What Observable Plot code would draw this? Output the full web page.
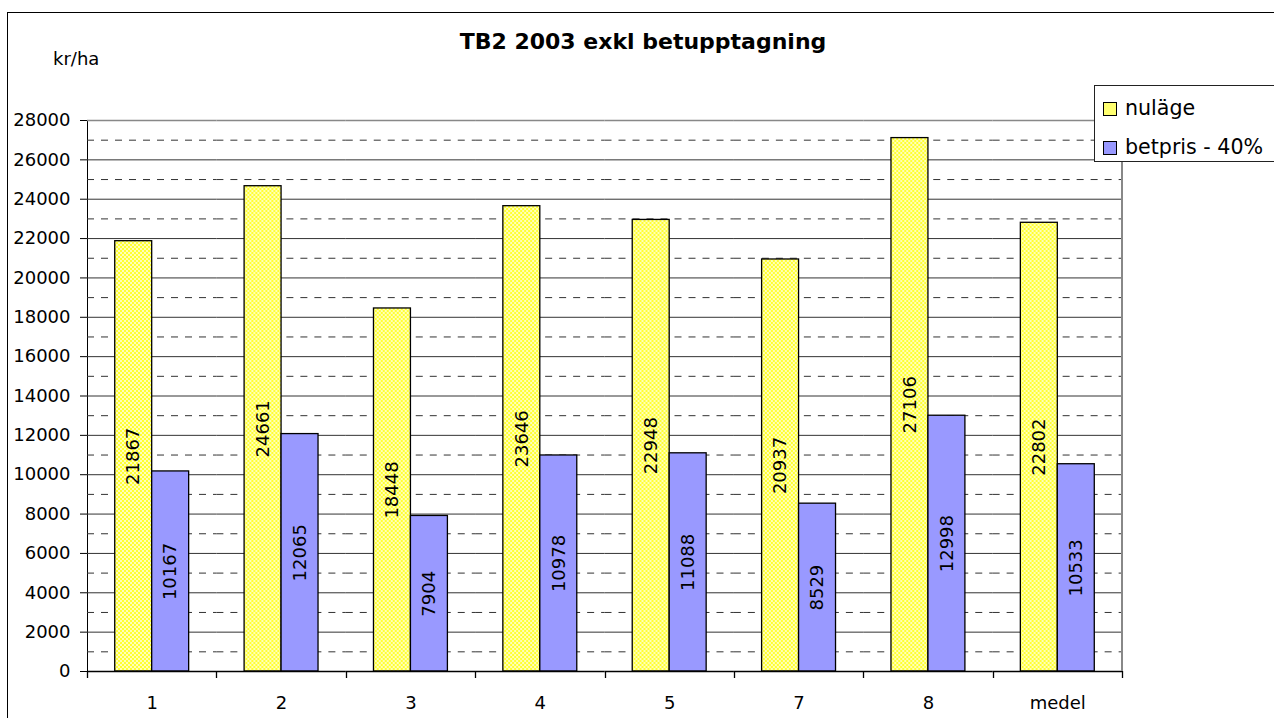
<!DOCTYPE html>
<html>
<head>
<meta charset="utf-8">
<script src="https://cdn.jsdelivr.net/npm/d3@7"></script>
<script src="https://cdn.jsdelivr.net/npm/@observablehq/plot@0.6"></script>
<style>
  html, body { margin: 0; padding: 0; background: #fff; }
  #wrap { position: relative; width: 1274px; height: 718px; overflow: hidden; background: #fff; font-family: "DejaVu Sans", sans-serif; color: #000; }
  #border { position: absolute; left: 7px; top: 12px; width: 1400px; height: 800px; border: 1px solid #000; box-sizing: border-box; pointer-events: none; }
  #title { position: absolute; left: 0; width: 1286px; top: 31px; text-align: center; font-weight: bold; font-size: 22px; line-height: 22px; }
  #unit { position: absolute; left: 53px; top: 50px; font-size: 18px; line-height: 18px; }
  #legend { position: absolute; left: 1094px; top: 85px; width: 300px; height: 77px; border: 1px solid #222; box-sizing: border-box; background: #fff; }
  .li { position: absolute; left: 8px; font-size: 20.6px; line-height: 20px; white-space: nowrap; }
  .sw { display: inline-block; width: 12px; height: 12px; border: 1px solid #000; margin-right: 8px; vertical-align: -1px; }
  #chart { position: absolute; left: 0; top: 0; }
</style>
</head>
<body>
<div id="wrap">
  <div id="chart"></div>
  <div id="border"></div>
  <div id="title"></div>
  <div id="unit"></div>
  <div id="legend"></div>
</div>
<script>
// ---- data ----
const titleText = "TB2 2003 exkl betupptagning";
const unitText = "kr/ha";
const categories = ["1", "2", "3", "4", "5", "7", "8", "medel"];
const seriesNames = ["nuläge", "betpris - 40%"];
const nulage = [21867, 24661, 18448, 23646, 22948, 20937, 27106, 22802];
const betpris = [10167, 12065, 7904, 10978, 11088, 8529, 12998, 10533];
const majorTicks = [2000, 4000, 6000, 8000, 10000, 12000, 14000, 16000, 18000, 20000, 22000, 24000, 26000];
const minorTicks = [1000, 3000, 5000, 7000, 9000, 11000, 13000, 15000, 17000, 19000, 21000, 23000, 25000, 27000];
const yTicks = [0, 2000, 4000, 6000, 8000, 10000, 12000, 14000, 16000, 18000, 20000, 22000, 24000, 26000, 28000];
const colors = ["url(#yellowPattern)", "#9999FF"];
const legendSwatch = ["#ffff70", "#9999FF"];

const rows = [];
categories.forEach((c, i) => {
  rows.push({cat: c, series: seriesNames[0], value: nulage[i]});
  rows.push({cat: c, series: seriesNames[1], value: betpris[i]});
});

document.getElementById("title").textContent = titleText;
document.getElementById("unit").textContent = unitText;
const legend = document.getElementById("legend");
seriesNames.forEach((s, i) => {
  const d = document.createElement("div");
  d.className = "li";
  d.style.top = (i === 0 ? 12 : 51) + "px";
  const sw = document.createElement("span");
  sw.className = "sw";
  sw.style.background = legendSwatch[i];
  d.appendChild(sw);
  d.appendChild(document.createTextNode(s));
  legend.appendChild(d);
});

const font = "DejaVu Sans";
const chart = Plot.plot({
  width: 1274,
  height: 718,
  marginLeft: 87,
  marginRight: 152,
  marginTop: 120,
  marginBottom: 47,
  style: {fontFamily: font, fontSize: "18px", color: "#000", background: "transparent"},
  facet: {data: rows, x: "cat"},
  fx: {domain: categories, padding: 0, round: false, label: null, tickSize: 0, tickPadding: 25},
  x: {domain: seriesNames, paddingInner: 0, paddingOuter: 0.75, round: false, axis: null},
  y: {domain: [0, 28000], ticks: yTicks, tickSize: 7, tickPadding: 10, label: null, tickFormat: d => String(d), line: true},
  marks: [
    Plot.ruleY(minorTicks, {stroke: "#333", strokeWidth: 1, strokeDasharray: "7,7"}),
    Plot.ruleY(majorTicks, {stroke: "#333", strokeWidth: 1}),
    Plot.ruleY([28000], {stroke: "#888", strokeWidth: 1.5}),
    Plot.barY(rows, {filter: d => d.series === seriesNames[0], x: "series", y: "value", fill: colors[0], stroke: "#000", strokeWidth: 1.3}),
    Plot.barY(rows, {filter: d => d.series === seriesNames[1], x: "series", y: "value", fill: colors[1], stroke: "#000", strokeWidth: 1.3}),
    Plot.text(rows, {x: "series", y: d => d.value / 2, text: d => String(d.value), rotate: -90, fontSize: 18, fill: "#000"}),
    Plot.ruleY([0], {stroke: "#000", strokeWidth: 1.3})
  ]
});

// pattern for yellow bars
const svg = d3.select(chart.tagName.toLowerCase() === "svg" ? chart : chart.querySelector("svg"));
const defs = svg.insert("defs", ":first-child");
const pat = defs.append("pattern").attr("id", "yellowPattern").attr("patternUnits", "userSpaceOnUse")
  .attr("width", 4).attr("height", 4);
pat.append("rect").attr("width", 4).attr("height", 4).attr("fill", "#ffff33");
pat.append("rect").attr("width", 2).attr("height", 2).attr("fill", "#ffffb8");
pat.append("rect").attr("x", 2).attr("y", 2).attr("width", 2).attr("height", 2).attr("fill", "#ffffb8");

// category boundary ticks and right border, from the plot's own scales
const fx = chart.scale("fx");
const ys = chart.scale("y");
const y0 = ys.apply(0), yTop = ys.apply(28000);
const bounds = categories.map(c => fx.apply(c)).concat([fx.range[1]]);
const g = svg.append("g");
bounds.forEach(b => {
  g.append("line").attr("x1", Math.round(b) + 0.5).attr("x2", Math.round(b) + 0.5)
    .attr("y1", y0).attr("y2", y0 + 7).attr("stroke", "#000").attr("stroke-width", 1.3);
});
g.append("line").attr("x1", fx.range[1]).attr("x2", fx.range[1]).attr("y1", yTop).attr("y2", y0)
  .attr("stroke", "#888").attr("stroke-width", 2);

document.getElementById("chart").appendChild(chart);
</script>
</body>
</html>
